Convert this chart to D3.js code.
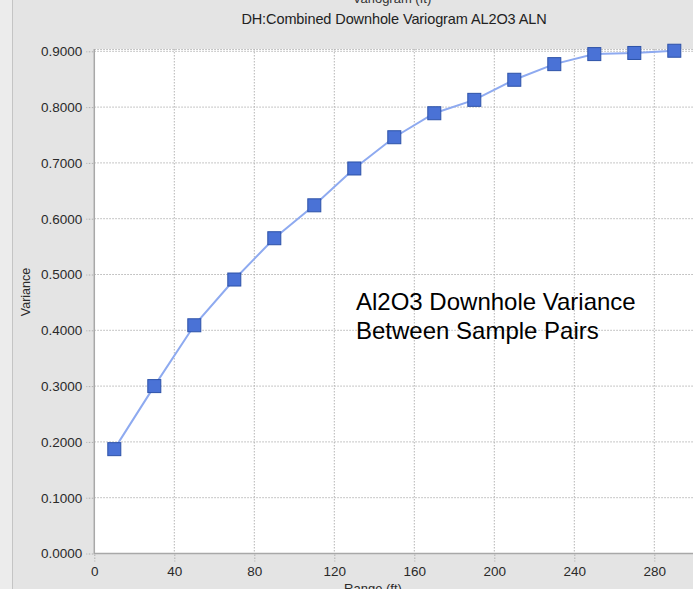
<!DOCTYPE html>
<html>
<head>
<script src="https://cdn.jsdelivr.net/npm/d3@7"></script>
<style>
  body { margin: 0; background: #e4e4e4; overflow: hidden; }
  svg { display: block; font-family: Arial, "Liberation Sans", sans-serif; }
</style>
</head>
<body>
<svg width="693" height="589"></svg>
<script>
// lag distances (ft) and semivariance
const lags = [10, 30, 50, 70, 90, 110, 130, 150, 170, 190, 210, 230, 250, 270, 290];
const variance = [0.187, 0.300, 0.409, 0.491, 0.565, 0.624, 0.690, 0.746, 0.789, 0.813, 0.849, 0.877, 0.895, 0.897, 0.901];
const xTicks = [0, 40, 80, 120, 160, 200, 240, 280];
const yTicks = [0, 0.1, 0.2, 0.3, 0.4, 0.5, 0.6, 0.7, 0.8, 0.9];

const svg = d3.select("svg");

// window chrome
svg.append("rect").attr("x", 0).attr("y", 0).attr("width", 693).attr("height", 589).attr("fill", "#e4e4e4");
svg.append("rect").attr("x", 0).attr("y", 0).attr("width", 12).attr("height", 589).attr("fill", "#ececec");
svg.append("line").attr("x1", 12.5).attr("x2", 12.5).attr("y1", 0).attr("y2", 589).attr("stroke", "#c4c4c4");
svg.append("text").attr("x", 392).attr("y", 3).attr("text-anchor", "middle")
  .attr("font-size", 13).attr("fill", "#333").text("Variogram (ft)");

const plotL = 94.3, plotT = 49, plotB = 553.5;
const x = d3.scaleLinear().domain([0, 300]).range([plotL, plotL + 600]);
const y = d3.scaleLinear().domain([0, 1]).range([plotB, plotB - 558]);

svg.append("text").attr("x", 394).attr("y", 24).attr("text-anchor", "middle")
  .attr("font-size", 14.5).attr("fill", "#222").attr("letter-spacing", -0.1)
  .text("DH:Combined Downhole Variogram AL2O3 ALN");

// plot area
svg.append("rect").attr("x", plotL).attr("y", plotT).attr("width", 700 - plotL).attr("height", plotB - plotT)
  .attr("fill", "#fff");

const grid = svg.append("g").attr("stroke", "#b4b4b4").attr("stroke-dasharray", "1.5,1.5");
grid.selectAll(".gx").data(xTicks.slice(1)).join("line")
  .attr("x1", d => x(d)).attr("x2", d => x(d)).attr("y1", plotT).attr("y2", plotB);
grid.selectAll(".gy").data(yTicks.slice(1)).join("line")
  .attr("x1", plotL).attr("x2", 700).attr("y1", d => y(d)).attr("y2", d => y(d));
grid.append("line").attr("x1", plotL).attr("x2", 700).attr("y1", plotT + 0.5).attr("y2", plotT + 0.5);

svg.append("path").attr("fill", "none").attr("stroke", "#a8a8a8").attr("stroke-width", 1.5)
  .attr("d", `M${plotL},${plotT}V${plotB}H700`);

// axes
const yAxis = svg.append("g").attr("transform", `translate(${plotL - 1},0)`)
  .call(d3.axisLeft(y).tickValues(yTicks).tickFormat(d3.format(".4f")).tickSize(7).tickPadding(4));
const xAxis = svg.append("g").attr("transform", `translate(0,${plotB + 1})`)
  .call(d3.axisBottom(x).tickValues(xTicks).tickSize(7).tickPadding(5));
[yAxis, xAxis].forEach(a => {
  a.select(".domain").remove();
  a.selectAll(".tick line").attr("stroke", "#b0b0b0").attr("stroke-dasharray", "1.5,1.5");
  a.selectAll(".tick text").attr("font-size", 13.5).attr("fill", "#2a2a2a")
    .attr("font-family", "Arial, 'Liberation Sans', sans-serif");
});

svg.append("text").attr("x", 373).attr("y", 593).attr("text-anchor", "middle")
  .attr("font-size", 13).attr("fill", "#2a2a2a").text("Range (ft)");
svg.append("text").attr("transform", "translate(30,292) rotate(-90)").attr("text-anchor", "middle")
  .attr("font-size", 12.5).attr("fill", "#2a2a2a").text("Variance");

// variogram line + markers
const line = d3.line().x((d, i) => x(lags[i])).y(d => y(d));
svg.append("path").datum(variance).attr("fill", "none")
  .attr("stroke", "#8eaaf0").attr("stroke-width", 2).attr("d", line);
svg.selectAll(".pt").data(variance).join("rect")
  .attr("x", (d, i) => x(lags[i]) - 6.5).attr("y", d => y(d) - 6.5)
  .attr("width", 13).attr("height", 13)
  .attr("fill", "#4a72d6").attr("stroke", "#2d52a8").attr("stroke-width", 1);

// annotation
const note = svg.append("text").attr("font-size", 24).attr("fill", "#000")
  .attr("font-family", "Arial, 'Liberation Sans', sans-serif");
note.append("tspan").attr("x", 356).attr("y", 309.5).text("Al2O3 Downhole Variance");
note.append("tspan").attr("x", 356).attr("y", 339).text("Between Sample Pairs");
</script>
</body>
</html>
